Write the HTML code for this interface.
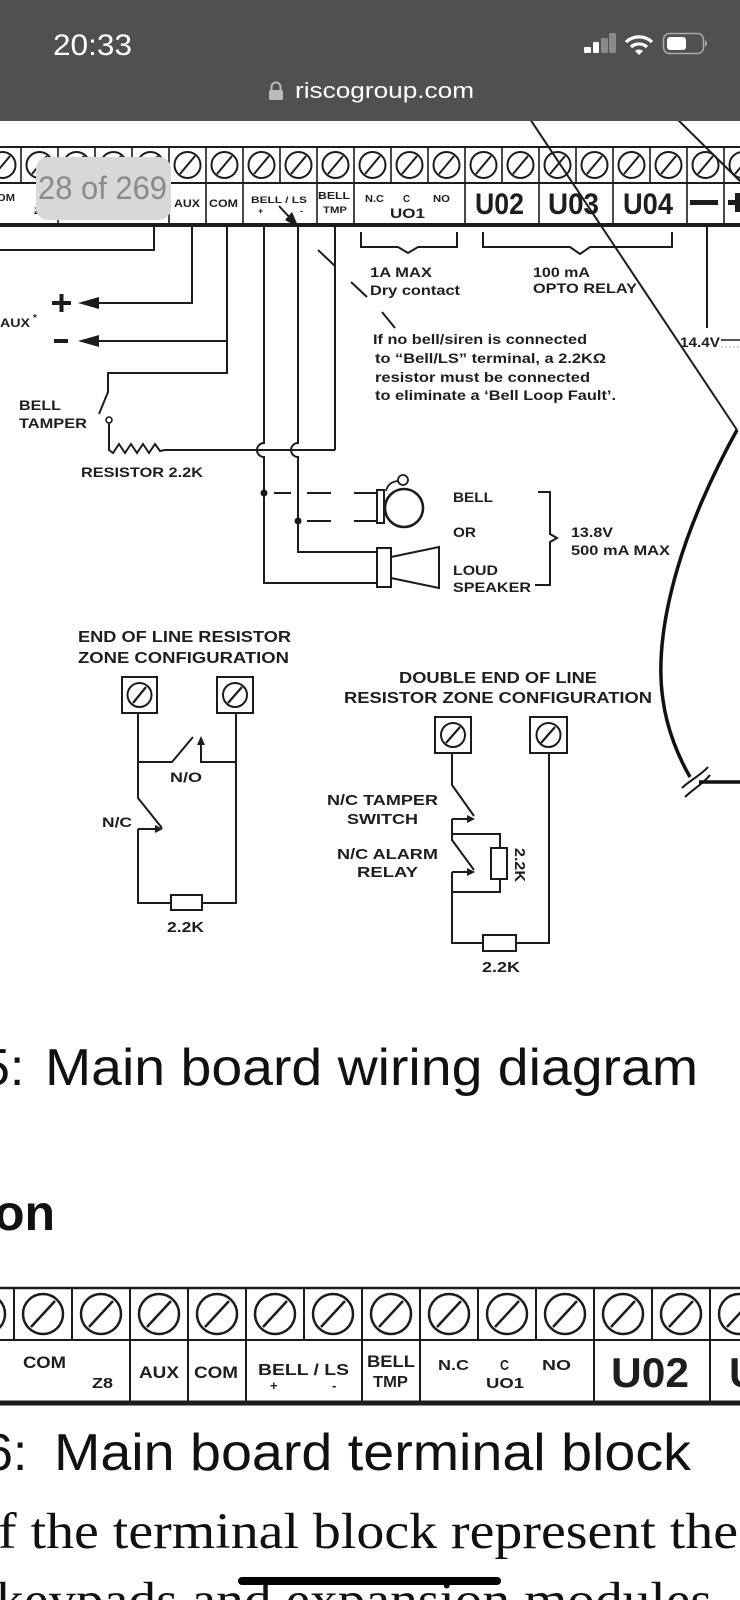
<!DOCTYPE html>
<html><head><meta charset="utf-8"><style>
html,body{margin:0;padding:0;background:#fff;}
svg{display:block;}
text{font-family:"Liberation Sans",Arial,sans-serif;}
.b{font-weight:bold;fill:#1e1e1e;}
.w{stroke:#1c1c1c;stroke-width:2;fill:none;}
</style></head><body>
<svg width="740" height="1600" viewBox="0 0 740 1600" xmlns="http://www.w3.org/2000/svg">
<rect width="740" height="1600" fill="#fff"/>

<!-- diagonals from top -->
<path d="M524,110 L737,430" stroke="#1c1c1c" stroke-width="2" fill="none"/>
<path d="M668,110 L745,186" stroke="#1c1c1c" stroke-width="2" fill="none"/>
<!-- big curve -->
<path d="M737,430 C712,475 690,525 677,570 C664,615 657,660 663,700 C667,730 679,758 690,777" stroke="#111" stroke-width="3.5" fill="none"/>
<path d="M682,788 C690,780 700,776 708,767" stroke="#111" stroke-width="2" fill="none"/>
<path d="M685,797 C693,789 703,784 710,775" stroke="#111" stroke-width="2" fill="none"/>
<path d="M699,782 H740" stroke="#111" stroke-width="3.5"/>

<!-- ===== Upper terminal block ===== -->
<g stroke="#1c1c1c" fill="none">
<line x1="0" y1="147" x2="740" y2="147" stroke-width="2"/>
<line x1="0" y1="183" x2="740" y2="183" stroke-width="2"/>
<line x1="0" y1="225" x2="740" y2="225" stroke-width="4"/>
</g>
<g stroke="#1c1c1c" stroke-width="1.6" fill="none">
<path d="M21,147V183M58,147V183M95,147V183M132,147V183M169,147V183M206,147V183M243,147V183M280,147V183M317,147V183M354,147V183M391,147V183M428,147V183M465,147V183M502,147V183M539,147V183M576,147V183M613,147V183M650,147V183M687,147V183M724,147V183"/>
<path d="M58,183V225M169,183V225M206,183V225M243,183V225M317,183V225M354,183V225M465,183V225M539,183V225M613,183V225M687,183V225M724,183V225"/>
</g>
<g stroke="#1c1c1c" stroke-width="2" fill="none">
<circle cx="2.5" cy="165" r="13"/><circle cx="39.5" cy="165" r="13"/><circle cx="76.5" cy="165" r="13"/><circle cx="113.5" cy="165" r="13"/><circle cx="150.5" cy="165" r="13"/><circle cx="187.5" cy="165" r="13"/><circle cx="224.5" cy="165" r="13"/><circle cx="261.5" cy="165" r="13"/><circle cx="298.5" cy="165" r="13"/><circle cx="335.5" cy="165" r="13"/><circle cx="372.5" cy="165" r="13"/><circle cx="409.5" cy="165" r="13"/><circle cx="446.5" cy="165" r="13"/><circle cx="483.5" cy="165" r="13"/><circle cx="520.5" cy="165" r="13"/><circle cx="557.5" cy="165" r="13"/><circle cx="594.5" cy="165" r="13"/><circle cx="631.5" cy="165" r="13"/><circle cx="668.5" cy="165" r="13"/><circle cx="705.5" cy="165" r="13"/><circle cx="742.5" cy="165" r="13"/>
<path d="M-5,174L10,156M32,174L47,156M69,174L84,156M106,174L121,156M143,174L158,156M180,174L195,156M217,174L232,156M254,174L269,156M291,174L306,156M328,174L343,156M365,174L380,156M402,174L417,156M439,174L454,156M476,174L491,156M513,174L528,156M550,174L565,156M587,174L602,156M624,174L639,156M661,174L676,156M698,174L713,156M735,174L750,156"/>
</g>
<!-- upper labels -->
<text class="b" x="-11" y="201" font-size="10" textLength="26" lengthAdjust="spacingAndGlyphs">COM</text>
<text class="b" x="34" y="214" font-size="9">Z8</text>
<text class="b" x="174" y="207" font-size="11" textLength="26" lengthAdjust="spacingAndGlyphs">AUX</text>
<text class="b" x="209" y="207" font-size="11" textLength="29" lengthAdjust="spacingAndGlyphs">COM</text>
<text class="b" x="251" y="203" font-size="9" textLength="56" lengthAdjust="spacingAndGlyphs">BELL / LS</text>
<text class="b" x="258" y="214" font-size="9">+</text>
<text class="b" x="300" y="214" font-size="9">-</text>
<text class="b" x="318" y="199" font-size="10" textLength="32" lengthAdjust="spacingAndGlyphs">BELL</text>
<text class="b" x="323" y="213" font-size="9" textLength="24" lengthAdjust="spacingAndGlyphs">TMP</text>
<text class="b" x="365" y="202" font-size="10" textLength="19" lengthAdjust="spacingAndGlyphs">N.C</text>
<text class="b" x="403" y="202" font-size="10" textLength="7" lengthAdjust="spacingAndGlyphs">C</text>
<text class="b" x="433" y="202" font-size="10" textLength="17" lengthAdjust="spacingAndGlyphs">NO</text>
<text class="b" x="390" y="218" font-size="14" textLength="35" lengthAdjust="spacingAndGlyphs">UO1</text>
<text class="b" x="475" y="214" font-size="30" textLength="49" lengthAdjust="spacingAndGlyphs">U02</text>
<text class="b" x="548" y="214" font-size="30" textLength="51" lengthAdjust="spacingAndGlyphs">U03</text>
<text class="b" x="623" y="214" font-size="30" textLength="50" lengthAdjust="spacingAndGlyphs">U04</text>
<rect x="690" y="200" width="28" height="5" fill="#1c1c1c"/>
<rect x="728" y="200" width="18" height="5" fill="#1c1c1c"/>
<rect x="735" y="193" width="5" height="19" fill="#1c1c1c"/>
<!-- BELL/LS arrow -->
<path d="M279,206 L292,220" stroke="#1c1c1c" stroke-width="2"/>
<polygon points="299,228 285,220 292,212" fill="#1c1c1c"/>

<!-- wires below upper block -->
<g class="w">
<path d="M154,225V250H0"/>
<path d="M192,225V303H99"/>
<path d="M227,225V373H108V392L99,414"/>
<path d="M109,423V450 L113,453 L119,444 L125,453 L131,444 L137,453 L143,444 L149,453 L155,444 L160,451 L165,450 H335"/>
<path d="M264,225V443 A7,7 0 0 0 264,457 V583H377"/>
<path d="M298,225V443 A7,7 0 0 0 298,457 V552H377"/>
<path d="M335,225V450"/>
<path d="M227,341H99"/>
<path d="M318,250L335,266"/>
<path d="M361,232V247H398L408,253L418,247H457V232"/>
<path d="M483,232V247H570L580,254L590,247H672V232"/>
<path d="M707,225V328"/>
<path d="M721,340H740" stroke-width="1.5"/>
<path d="M351,282L367,297"/>
<path d="M382,312L395,328"/>
<path d="M274,493H291M307,493H331M354,493H377"/>
<path d="M307,521H331M354,521H377"/>
<path d="M538,492H550V534L557,538L550,542V585H535"/>
</g>
<path d="M721,347H740" stroke="#bbb" stroke-width="1.2" stroke-dasharray="2 2"/>
<circle cx="109" cy="420" r="3" fill="#fff" stroke="#1c1c1c" stroke-width="1.6"/>
<polygon points="78,303 99,297 99,309" fill="#1c1c1c"/>
<polygon points="78,341 99,335 99,347" fill="#1c1c1c"/>
<path d="M52,303H71M61.5,294V312" stroke="#1c1c1c" stroke-width="4"/>
<path d="M54,341H68" stroke="#1c1c1c" stroke-width="4"/>
<circle cx="264" cy="493" r="3.5" fill="#1c1c1c"/>
<circle cx="298" cy="521" r="3.5" fill="#1c1c1c"/>
<!-- bell -->
<rect x="377" y="490" width="7" height="33" fill="#fff" stroke="#1c1c1c" stroke-width="2"/>
<circle cx="404" cy="508" r="19" fill="#fff" stroke="#1c1c1c" stroke-width="2.6"/>
<circle cx="403" cy="480" r="5" fill="#fff" stroke="#1c1c1c" stroke-width="1.8"/>
<path d="M386,491 Q388,482 398,481" stroke="#1c1c1c" stroke-width="1.8" fill="none"/>
<!-- speaker -->
<rect x="377" y="548" width="14" height="39" fill="#fff" stroke="#1c1c1c" stroke-width="2"/>
<polygon points="391,557 439,547 439,588 391,578" fill="#fff" stroke="#1c1c1c" stroke-width="2"/>

<!-- texts in wiring area -->
<text class="b" x="0" y="327" font-size="12" textLength="30" lengthAdjust="spacingAndGlyphs">AUX</text>
<text class="b" x="33" y="321" font-size="10">*</text>
<text class="b" x="19" y="410" font-size="14" textLength="42" lengthAdjust="spacingAndGlyphs">BELL</text>
<text class="b" x="19" y="428" font-size="14" textLength="68" lengthAdjust="spacingAndGlyphs">TAMPER</text>
<text class="b" x="81" y="477" font-size="14" textLength="122" lengthAdjust="spacingAndGlyphs">RESISTOR 2.2K</text>
<text class="b" x="370" y="277" font-size="14" textLength="62" lengthAdjust="spacingAndGlyphs">1A MAX</text>
<text class="b" x="370" y="295" font-size="14" textLength="90" lengthAdjust="spacingAndGlyphs">Dry contact</text>
<text class="b" x="533" y="277" font-size="14" textLength="57" lengthAdjust="spacingAndGlyphs">100 mA</text>
<text class="b" x="533" y="293" font-size="14" textLength="104" lengthAdjust="spacingAndGlyphs">OPTO RELAY</text>
<text class="b" x="373" y="344" font-size="14" textLength="214" lengthAdjust="spacingAndGlyphs">If no bell/siren is connected</text>
<text class="b" x="375" y="363" font-size="14" textLength="231" lengthAdjust="spacingAndGlyphs">to “Bell/LS” terminal, a 2.2KΩ</text>
<text class="b" x="375" y="382" font-size="14" textLength="215" lengthAdjust="spacingAndGlyphs">resistor must be connected</text>
<text class="b" x="375" y="400" font-size="14" textLength="241" lengthAdjust="spacingAndGlyphs">to eliminate a ‘Bell Loop Fault’.</text>
<text class="b" x="680" y="347" font-size="14" textLength="40" lengthAdjust="spacingAndGlyphs">14.4V</text>
<text class="b" x="453" y="502" font-size="14" textLength="40" lengthAdjust="spacingAndGlyphs">BELL</text>
<text class="b" x="453" y="537" font-size="14" textLength="23" lengthAdjust="spacingAndGlyphs">OR</text>
<text class="b" x="453" y="575" font-size="14" textLength="45" lengthAdjust="spacingAndGlyphs">LOUD</text>
<text class="b" x="453" y="592" font-size="14" textLength="78" lengthAdjust="spacingAndGlyphs">SPEAKER</text>
<text class="b" x="571" y="537" font-size="14" textLength="42" lengthAdjust="spacingAndGlyphs">13.8V</text>
<text class="b" x="571" y="555" font-size="14" textLength="99" lengthAdjust="spacingAndGlyphs">500 mA MAX</text>

<!-- ===== EOL configuration ===== -->
<text class="b" x="78" y="642" font-size="16" textLength="213" lengthAdjust="spacingAndGlyphs">END OF LINE RESISTOR</text>
<text class="b" x="78" y="663" font-size="16" textLength="211" lengthAdjust="spacingAndGlyphs">ZONE CONFIGURATION</text>
<g stroke="#1c1c1c" stroke-width="2" fill="#fff">
<rect x="122" y="677" width="35" height="36"/>
<rect x="217" y="677" width="36" height="36"/>
<circle cx="139.5" cy="695" r="12"/>
<circle cx="235" cy="695" r="12"/>
</g>
<path d="M133,703L146,687M228,703L242,687" stroke="#1c1c1c" stroke-width="2.2"/>
<g class="w">
<path d="M138,713V798L162,828"/>
<path d="M138,829H157"/>
<path d="M138,829V903H236V713"/>
<path d="M138,762H172L193,737"/>
<path d="M201,742V762H236"/>
</g>
<polygon points="201,736 197,745 205,745" fill="#1c1c1c"/>
<polygon points="163,829 155,825 155,833" fill="#1c1c1c"/>
<rect x="171" y="895" width="31" height="15" fill="#fff" stroke="#1c1c1c" stroke-width="2"/>
<text class="b" x="170" y="782" font-size="14" textLength="32" lengthAdjust="spacingAndGlyphs">N/O</text>
<text class="b" x="102" y="827" font-size="14" textLength="30" lengthAdjust="spacingAndGlyphs">N/C</text>
<text class="b" x="167" y="932" font-size="15" textLength="37" lengthAdjust="spacingAndGlyphs">2.2K</text>

<!-- ===== Double EOL configuration ===== -->
<text class="b" x="399" y="683" font-size="16" textLength="198" lengthAdjust="spacingAndGlyphs">DOUBLE END OF LINE</text>
<text class="b" x="344" y="703" font-size="16" textLength="308" lengthAdjust="spacingAndGlyphs">RESISTOR ZONE CONFIGURATION</text>
<g stroke="#1c1c1c" stroke-width="2" fill="#fff">
<rect x="435" y="717" width="36" height="36"/>
<rect x="530" y="717" width="37" height="36"/>
<circle cx="453" cy="735" r="12"/>
<circle cx="548.5" cy="735" r="12"/>
</g>
<path d="M446,743L460,727M541,743L555,727" stroke="#1c1c1c" stroke-width="2.2"/>
<g class="w">
<path d="M452,753V785L474,816"/>
<path d="M452,819H469"/>
<path d="M452,819V840L474,870"/>
<path d="M452,834H500V848M500,879V892H452"/>
<path d="M452,872H469"/>
<path d="M452,872V943H549V753"/>
</g>
<polygon points="475,819 467,815 467,823" fill="#1c1c1c"/>
<polygon points="475,872 467,868 467,876" fill="#1c1c1c"/>
<rect x="491" y="848" width="16" height="31" fill="#fff" stroke="#1c1c1c" stroke-width="2"/>
<rect x="483" y="935" width="33" height="16" fill="#fff" stroke="#1c1c1c" stroke-width="2"/>
<text class="b" x="0" y="0" font-size="15" textLength="34" lengthAdjust="spacingAndGlyphs" transform="translate(515,848) rotate(90)">2.2K</text>
<text class="b" x="482" y="972" font-size="15" textLength="38" lengthAdjust="spacingAndGlyphs">2.2K</text>
<text class="b" x="327" y="805" font-size="15" textLength="111" lengthAdjust="spacingAndGlyphs">N/C TAMPER</text>
<text class="b" x="347" y="824" font-size="15" textLength="71" lengthAdjust="spacingAndGlyphs">SWITCH</text>
<text class="b" x="337" y="859" font-size="15" textLength="101" lengthAdjust="spacingAndGlyphs">N/C ALARM</text>
<text class="b" x="357" y="877" font-size="15" textLength="61" lengthAdjust="spacingAndGlyphs">RELAY</text>

<!-- overlay page counter -->
<rect x="36" y="157" width="135" height="63" rx="12" fill="#d8d8d8"/>
<text x="38" y="199" font-size="32" fill="#8a8a8a" textLength="129" lengthAdjust="spacingAndGlyphs">28 of 269</text>

<!-- ===== captions ===== -->
<text x="-19" y="1085" font-size="52" fill="#111">5:</text>
<text x="45" y="1085" font-size="52" fill="#111" textLength="653" lengthAdjust="spacingAndGlyphs">Main board wiring diagram</text>
<text x="-6" y="1230" font-size="50" font-weight="bold" fill="#111">on</text>

<!-- ===== Lower terminal block ===== -->
<g stroke="#1c1c1c" fill="none">
<line x1="0" y1="1288" x2="740" y2="1288" stroke-width="2.5"/>
<line x1="0" y1="1340" x2="740" y2="1340" stroke-width="2"/>
<line x1="0" y1="1403" x2="740" y2="1403" stroke-width="5"/>
<path stroke-width="2" d="M14,1288V1340M72,1288V1340M130,1288V1340M188,1288V1340M246,1288V1340M304,1288V1340M362,1288V1340M420,1288V1340M478,1288V1340M536,1288V1340M594,1288V1340M652,1288V1340M710,1288V1340"/>
<path stroke-width="2" d="M130,1340V1403M188,1340V1403M246,1340V1403M362,1340V1403M420,1340V1403M594,1340V1403M710,1340V1403"/>
</g>
<g stroke="#1c1c1c" stroke-width="2.5" fill="none">
<circle cx="-15" cy="1314" r="20"/><circle cx="43" cy="1314" r="20"/><circle cx="101" cy="1314" r="20"/><circle cx="159" cy="1314" r="20"/><circle cx="217" cy="1314" r="20"/><circle cx="275" cy="1314" r="20"/><circle cx="333" cy="1314" r="20"/><circle cx="391" cy="1314" r="20"/><circle cx="449" cy="1314" r="20"/><circle cx="507" cy="1314" r="20"/><circle cx="565" cy="1314" r="20"/><circle cx="623" cy="1314" r="20"/><circle cx="681" cy="1314" r="20"/><circle cx="739" cy="1314" r="20"/>
<path d="M-27,1327L-3,1301M31,1327L55,1301M89,1327L113,1301M147,1327L171,1301M205,1327L229,1301M263,1327L287,1301M321,1327L345,1301M379,1327L403,1301M437,1327L461,1301M495,1327L519,1301M553,1327L577,1301M611,1327L635,1301M669,1327L693,1301M727,1327L751,1301"/>
</g>
<text class="b" x="23" y="1368" font-size="17" textLength="43" lengthAdjust="spacingAndGlyphs">COM</text>
<text class="b" x="92" y="1388" font-size="15" textLength="21" lengthAdjust="spacingAndGlyphs">Z8</text>
<text class="b" x="139" y="1378" font-size="17" textLength="40" lengthAdjust="spacingAndGlyphs">AUX</text>
<text class="b" x="194" y="1378" font-size="17" textLength="44" lengthAdjust="spacingAndGlyphs">COM</text>
<text class="b" x="258" y="1375" font-size="16" textLength="91" lengthAdjust="spacingAndGlyphs">BELL / LS</text>
<text class="b" x="270" y="1390" font-size="13">+</text>
<text class="b" x="332" y="1390" font-size="13">-</text>
<text class="b" x="367" y="1367" font-size="17" textLength="48" lengthAdjust="spacingAndGlyphs">BELL</text>
<text class="b" x="373" y="1387" font-size="16" textLength="35" lengthAdjust="spacingAndGlyphs">TMP</text>
<text class="b" x="438" y="1370" font-size="15" textLength="31" lengthAdjust="spacingAndGlyphs">N.C</text>
<text class="b" x="500" y="1370" font-size="15" textLength="9" lengthAdjust="spacingAndGlyphs">C</text>
<text class="b" x="542" y="1370" font-size="15" textLength="29" lengthAdjust="spacingAndGlyphs">NO</text>
<text class="b" x="486" y="1388" font-size="15" textLength="38" lengthAdjust="spacingAndGlyphs">UO1</text>
<text class="b" x="611" y="1387" font-size="42" textLength="78" lengthAdjust="spacingAndGlyphs">U02</text>
<text class="b" x="729" y="1387" font-size="42" textLength="78" lengthAdjust="spacingAndGlyphs">U03</text>

<text x="-16" y="1470" font-size="52" fill="#111">6:</text>
<text x="54" y="1470" font-size="52" fill="#111" textLength="637" lengthAdjust="spacingAndGlyphs">Main board terminal block</text>
<text x="-2" y="1548" font-size="51" fill="#111" style="font-family:'Liberation Serif',serif" textLength="740" lengthAdjust="spacingAndGlyphs">f the terminal block represent the</text>
<text x="-4" y="1617" font-size="51" fill="#111" style="font-family:'Liberation Serif',serif" textLength="716" lengthAdjust="spacingAndGlyphs">keypads and expansion modules</text>
<rect x="238" y="1577" width="263" height="8" rx="4" fill="#000"/>

<!-- ===== status bar ===== -->
<rect x="0" y="0" width="740" height="121" fill="#505050"/>
<text x="53" y="55" font-size="30" fill="#fff" textLength="79" lengthAdjust="spacingAndGlyphs">20:33</text>
<rect x="584" y="47" width="7" height="6" rx="1" fill="#fff"/>
<rect x="593" y="42" width="6" height="11" rx="1" fill="#fff"/>
<rect x="601" y="38" width="7" height="15" rx="1" fill="#8a8a8a"/>
<rect x="609" y="33" width="7" height="20" rx="1" fill="#8a8a8a"/>
<g fill="none" stroke="#fff" stroke-width="3.2" stroke-linecap="butt">
<path d="M626,42 A19,19 0 0 1 652,42"/>
<path d="M631,47 A12,12 0 0 1 647,47"/>
</g>
<path d="M635,51 L639,55 L643,51 A6,6 0 0 0 635,51 Z" fill="#fff"/>
<rect x="663.5" y="33.5" width="40" height="20" rx="6" fill="none" stroke="#aaa" stroke-width="1.5"/>
<rect x="667" y="37" width="19" height="13" rx="3" fill="#fff"/>
<path d="M705,40 Q709,43.5 705,47 Z" fill="#aaa"/>
<path d="M271.5,91 V87 A4.5,4.5 0 0 1 280.5,87 V91" fill="none" stroke="#bbb" stroke-width="2"/>
<rect x="269" y="90" width="14" height="10" rx="1.5" fill="#bbb"/>
<text x="295" y="98" font-size="22" fill="#fff" textLength="179" lengthAdjust="spacingAndGlyphs">riscogroup.com</text>
</svg>
</body></html>
